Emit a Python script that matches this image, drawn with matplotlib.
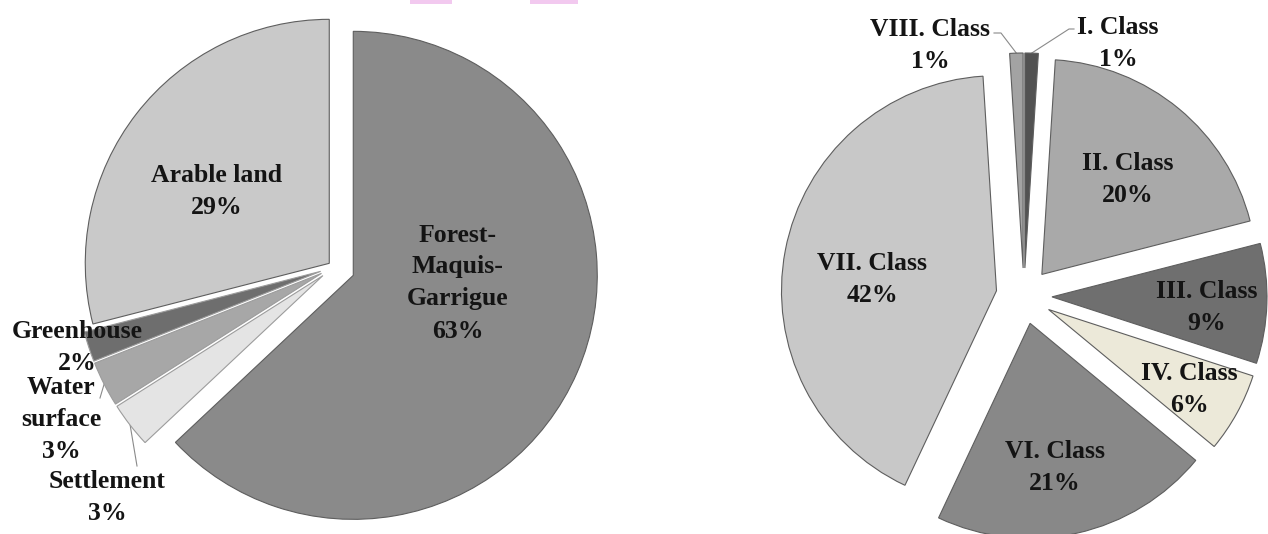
import numpy as np
import matplotlib.pyplot as plt
from matplotlib.patches import Rectangle

W, H = 1268, 534

# land use shares, clockwise from 12 o'clock
land_names = ['Forest-\nMaquis-\nGarrigue', 'Settlement', 'Water\nsurface', 'Greenhouse', 'Arable land']
land_pct = [63, 3, 3, 2, 29]
land_colors = ['#8a8a8a', '#e4e4e4', '#a7a7a7', '#6e6e6e', '#c9c9c9']
land_explode = [21, 14, 14, 14, 6]

# land capability classes, clockwise from 12 o'clock (no V. class)
class_names = ['I. Class', 'II. Class', 'III. Class', 'IV. Class', 'VI. Class', 'VII. Class', 'VIII. Class']
class_pct = [1, 20, 9, 6, 21, 42, 1]
class_colors = ['#525252', '#a9a9a9', '#6f6f6f', '#ece9d9', '#888888', '#c8c8c8', '#a3a3a3']
class_explode = [28] * 7

# label centres in pixels (x from left, y from top)
land_label_xy = [(458, 283), (107, 497), (61, 419), (77, 348), (217, 191)]
class_label_xy = [(1118, 43), (1128, 179), (1207, 307), (1189, 389),
                  (1055, 467), (872, 279), (930, 46)]


def py(y):
    return H - y


fig = plt.figure(figsize=(W / 100, H / 100), dpi=100)
ax = fig.add_axes([0, 0, 1, 1])

wp = dict(edgecolor='#5e5e5e', linewidth=0.8)
w1, _ = ax.pie(land_pct, center=(334, py(267)), radius=244, startangle=90,
               counterclock=False, explode=land_explode, colors=land_colors,
               wedgeprops=wp)
w2, _ = ax.pie(class_pct, center=(1024, py(296)), radius=215, startangle=90,
               counterclock=False, explode=class_explode, colors=class_colors,
               wedgeprops=wp)
# the three thin land-use slices have light separators
for w in w1[1:4]:
    w.set_edgecolor('#9c9c9c')

txt = dict(ha='center', va='center', fontsize=18.5, fontweight='bold',
           family='Liberation Serif', linespacing=1.5, color='#141414')
for name, pct, (x, y) in zip(land_names, land_pct, land_label_xy):
    ax.text(x, py(y), f'{name}\n{pct}%', **txt)
for name, pct, (x, y) in zip(class_names, class_pct, class_label_xy):
    ax.text(x, py(y), f'{name}\n{pct}%', **txt)


def anchor(w):
    a = np.radians((w.theta1 + w.theta2) / 2)
    return w.center[0] + w.r * np.cos(a), w.center[1] + w.r * np.sin(a)


# leader lines from the small slices to their labels
def leader(w, pts):
    ax_, ay_ = anchor(w)
    xs = [p[0] for p in pts] + [ax_]
    ys = [py(p[1]) for p in pts] + [ay_]
    ax.plot(xs, ys, color='#8a8a8a', lw=0.8, zorder=0.5)


leader(w1[2], [(100, 398)])
leader(w1[1], [(137, 466)])
leader(w2[6], [(994, 33), (1001, 33)])
leader(w2[0], [(1074, 29), (1069, 29)])

# pink marks along the top edge
for x0, x1 in [(410, 452), (530, 578)]:
    ax.add_patch(Rectangle((x0, py(4)), x1 - x0, 4, color='#f2c9ef', lw=0))

ax.set_aspect('equal')
ax.set_xlim(0, W)
ax.set_ylim(0, H)
ax.axis('off')

fig.savefig('out.png', dpi=100)
